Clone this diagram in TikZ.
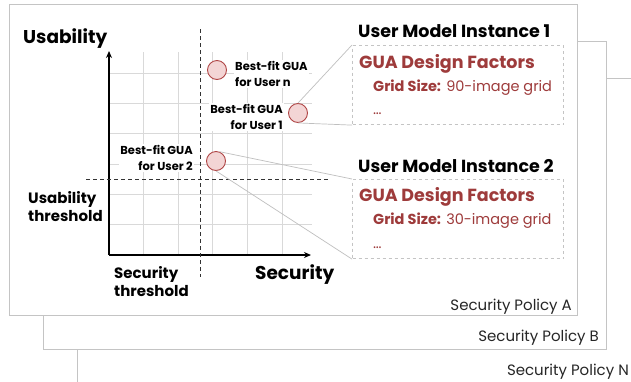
\documentclass[tikz,border=0pt]{standalone}
\usepackage{fontspec}
\setmainfont{Poppins}
\usetikzlibrary{arrows.meta,positioning}

\definecolor{factorred}{HTML}{9E3B3B}
\definecolor{framegray}{HTML}{C4C4C4}
\definecolor{gridgray}{HTML}{D9D9D9}
\definecolor{dotfill}{HTML}{F3D5D5}
\definecolor{dotedge}{HTML}{B04646}

\tikzset{
  policy/.style={draw=framegray, line width=1pt, fill=white},
  policylabel/.style={anchor=base east, inner sep=0pt, text=black!85, font=\fontsize{15}{17}\selectfont},
  gridline/.style={gridgray, line width=0.8pt},
  threshold/.style={black!80, line width=0.8pt, dash pattern=on 4pt off 3pt},
  axis/.style={-{Stealth[length=7pt,width=6pt]}, line width=1.6pt},
  fitdot/.style={circle, draw=dotedge, fill=dotfill, line width=0.9pt, minimum size=19pt, inner sep=0pt},
  fitlabel/.style={fill=white, inner sep=1pt, font=\bfseries\fontsize{11.5}{16}\selectfont},
  axislabel/.style={anchor=base west, inner sep=0pt, font=\bfseries\fontsize{18.5}{22}\selectfont},
  sublabel/.style={anchor=base west, inner sep=0pt, align=left, font=\bfseries\fontsize{15}{18}\selectfont},
  instbox/.style={draw=framegray, dashed, line width=1.1pt, minimum width=211pt, minimum height=79pt, anchor=north west},
  insttitle/.style={anchor=base west, inner sep=0pt, font=\bfseries\fontsize{17.5}{18}\selectfont},
  factortitle/.style={anchor=base west, inner sep=0pt, text=factorred, font=\bfseries\fontsize{17.5}{18}\selectfont},
  factorline/.style={anchor=base west, inner sep=0pt, text=factorred, font=\fontsize{14.5}{16}\selectfont},
  callout/.style={black!25, line width=0.7pt},
}

\begin{document}
\begin{tikzpicture}[x=1pt, y=-1pt]
\clip (0,0) rectangle (631,381);

% Stacked policy frames
\draw[policy] (77,78) rectangle (700,450);
\node[policylabel] (polN) at (629,375) {Security Policy N};
\draw[policy] (43,41) rectangle (606,349);
\node[policylabel] (polB) at (599,341) {Security Policy B};
\draw[policy] (9,4) rectangle (577,315);
\node[policylabel] (polA) at (572,310) {Security Policy A};

% Grid
\foreach \gx in {143.6,178.2,212.8,247.4,282} \draw[gridline] (\gx,255) -- (\gx,52);
\foreach \gy in {224.7,194.4,164.1,133.8,103.5,73.2} \draw[gridline] (109,\gy) -- (312,\gy);

% Axes
\coordinate (origin) at (109,255);
\draw[axis] (origin) -- (311,255);
\draw[axis] (origin) -- (109,51);
\node[axislabel] (usab) at (23,43) {Usability};
\node[axislabel] (secur) at (255,279) {Security};

% Thresholds
\draw[threshold] (200.7,29) -- (200.7,277);
\draw[threshold] (86,179) -- (330,179);
\node[sublabel] (usabthr) at (28,221) {Usability\\threshold};
\node[sublabel] (securthr) at (114,296) {Security\\threshold};

% User model instances
\node[insttitle] (title1) at (358,37) {User Model Instance 1};
\node[instbox] (inst1) at (352,45) {};
\node[factortitle] (factors1) at (359,68) {GUA Design Factors};
\node[factorline] (grid1) at (373,91) {\textbf{Grid Size:} 90-image grid};
\node[factorline] (more1) at (373,114) {\dots};

\node[insttitle] (title2) at (358,172) {User Model Instance 2};
\node[instbox] (inst2) at (352,179) {};
\node[factortitle] (factors2) at (359,201) {GUA Design Factors};
\node[factorline] (grid2) at (373,224) {\textbf{Grid Size:} 30-image grid};
\node[factorline] (more2) at (373,248) {\dots};

% Best-fit points
\node[fitdot] (un) at (217,70) {};
\node[fitdot] (u1) at (298,113) {};
\node[fitdot] (u2) at (216,161) {};
\draw[callout] (u1.north) -- (inst1.north west);
\draw[callout] (u1.south) -- (inst1.south west);
\draw[callout] (u2.70) -- (inst2.north west);
\draw[callout] (u2.south) -- (inst2.south west);

\node[fitlabel, align=left, anchor=west] (labn) at (234,74) {Best-fit GUA\\for User n};
\node[fitlabel, align=right, anchor=east] (lab1) at (284,117) {Best-fit GUA\\for User 1};
\node[fitlabel, align=right, anchor=east] (lab2) at (194,158) {Best-fit GUA\\for User 2};
\end{tikzpicture}
\end{document}
